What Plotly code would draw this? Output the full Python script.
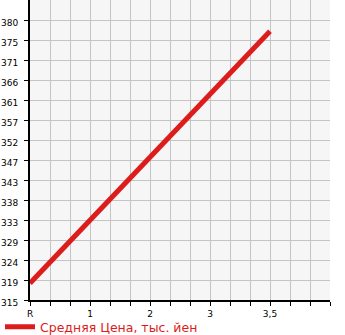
import numpy as np
import plotly.graph_objects as go

categories = ["R", "1", "2", "3", "3,5"]
series_x = ["R", "3,5"]
series_y = [318.9, 377.4]
y_tick_labels = ["315", "319", "324", "329", "333", "338", "343", "347",
                 "352", "357", "361", "366", "371", "375", "380"]
series_name = "Средняя Цена, тыс. йен"

y_min, y_max = 315, 380
y_step = (y_max - y_min) / (len(y_tick_labels) - 1)
y_tickvals = [y_min + i * y_step for i in range(len(y_tick_labels))]
x_pos = [categories.index(c) for c in series_x]

RED = "#dd1c1c"
GRID = "#c4c4c4"
FONT = "DejaVu Sans"

fig = go.Figure()
fig.add_trace(go.Scatter(
    x=x_pos, y=series_y, mode="lines", name=series_name,
    line=dict(color=RED, width=5), hoverinfo="skip",
))

fig.update_layout(
    width=345, height=335,
    margin=dict(l=30, r=15, t=0, b=35, autoexpand=False),
    paper_bgcolor="white", plot_bgcolor="#f6f6f6",
    showlegend=True,
    legend=dict(orientation="h", xref="container", yref="container",
                x=-0.061, xanchor="left", y=0.068, yanchor="top",
                font=dict(family=FONT, size=12.5, color=RED),
                bgcolor="rgba(0,0,0,0)", itemwidth=30),
    font=dict(family=FONT, size=9, color="black"),
)
fig.update_xaxes(
    range=[0, 5], tickmode="array", tickvals=list(range(len(categories))),
    ticktext=categories, showgrid=True, gridcolor=GRID, gridwidth=1,
    ticks="outside", ticklen=4, tickcolor="black", tickwidth=1,
    showline=True, linecolor="black", linewidth=2, zeroline=False,
    minor=dict(tickmode="linear", tick0=0, dtick=1/3, showgrid=True,
               gridcolor=GRID, gridwidth=1, ticks="outside", ticklen=4,
               tickcolor="black"),
    tickfont=dict(family=FONT, size=9, color="black"), fixedrange=True,
    automargin=False,
)
fig.update_yaxes(
    range=[y_min, y_max + y_step], tickmode="array", tickvals=y_tickvals,
    ticktext=y_tick_labels, showgrid=True, gridcolor=GRID, gridwidth=1,
    ticks="outside", ticklen=4, tickcolor="black", tickwidth=1,
    showline=True, linecolor="black", linewidth=2, zeroline=False,
    ticklabelstandoff=4, ticklabelshift=3,
    tickfont=dict(family=FONT, size=9, color="black"), fixedrange=True,
    automargin=False,
)

fig.write_html("out.html", config={"displayModeBar": False})
